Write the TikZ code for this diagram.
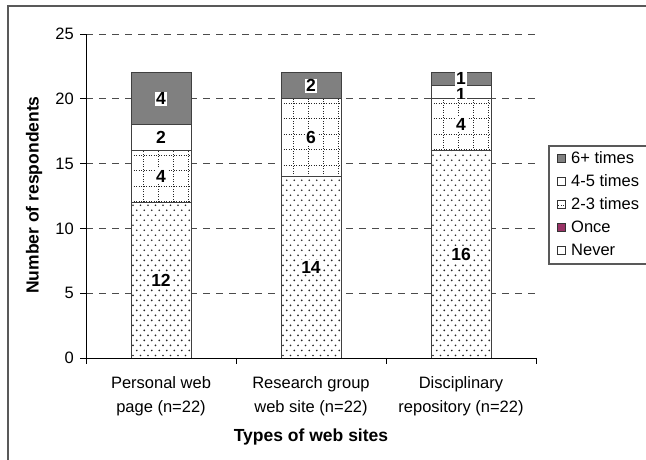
\documentclass[tikz,border=0pt]{standalone}
\usepackage{fontspec}
\setmainfont{Liberation Sans}
\definecolor{oncecol}{RGB}{153,51,102}
\begin{document}
\begin{tikzpicture}[x=1pt,y=1pt,
  txt/.style={font=\fontsize{16.5}{24}\selectfont, inner sep=0pt},
  ttl/.style={font=\fontsize{17.5}{24}\selectfont\bfseries, inner sep=0pt},
  val/.style={ttl, fill=white, inner sep=1.2pt},
  seg/.style={draw=black!75, line width=0.9pt},
  griddots/.style={draw=black!85, line width=1pt, dash pattern=on 1pt off 1.5pt},
  legsq/.style={draw=black!80, line width=0.6pt}]
  \useasboundingbox (0,0) rectangle (646,460);

  % chart frame
  \draw[black!65, line width=1.3pt] (8,-5) -- (8,454) -- (660,454);

  \begin{scope}[shift={(86,102)}, y=12.96pt]
    % gridlines
    \foreach \v in {5,10,...,25}
      \draw[black!70, line width=0.8pt, dash pattern=on 7pt off 6pt] (0,\v) -- (450,\v);

    % never: dotted fill
    \foreach \bx/\top in {75/12,225/14,375/16} {
      \begin{scope}
        \clip (\bx-30,0) rectangle (\bx+30,\top);
        \fill[white] (\bx-30,0) rectangle (\bx+30,\top);
        \foreach \j in {0,...,42} {
          \pgfmathsetmacro\off{mod(\j,2)*3.75}
          \foreach \i in {0,...,8}
            \fill[black!85] (\bx-30+2+\off+\i*7.5, 0.2+\j*0.386) circle (0.9pt);
        }
      \end{scope}
    }

    % 2-3 times: dotted grid
    \foreach \bx/\lo/\hi in {75/12/16,225/14/20,375/16/20} {
      \begin{scope}
        \clip (\bx-30,\lo) rectangle (\bx+30,\hi);
        \fill[white] (\bx-30,\lo) rectangle (\bx+30,\hi);
        \foreach \i in {0,...,3}
          \draw[griddots] (\bx-18+\i*15, \lo) -- (\bx-18+\i*15, \hi);
        \foreach \j in {0,...,5}
          \draw[griddots] (\bx-30, \hi-0.35-\j*1.2) -- (\bx+30, \hi-0.35-\j*1.2);
      \end{scope}
    }

    % 4-5 times: white, 6+ times: dark
    \foreach \bx/\lo/\hi in {75/16/18,375/20/21}
      \fill[white] (\bx-30,\lo) rectangle (\bx+30,\hi);
    \foreach \bx/\lo/\hi in {75/18/22,225/20/22,375/21/22}
      \fill[black!50] (\bx-30,\lo) rectangle (\bx+30,\hi);

    % segment outlines
    \foreach \bx/\lo/\hi in {75/0/12,75/12/16,75/16/18,75/18/22,
                             225/0/14,225/14/20,225/20/22,
                             375/0/16,375/16/20,375/20/21,375/21/22}
      \draw[seg] (\bx-30,\lo) rectangle (\bx+30,\hi);

    % axes
    \draw[black, line width=0.9pt] (0,0) -- (0,25);
    \draw[black, line width=0.9pt] (0,0) -- (450,0);
    \foreach \v in {0,5,...,25} {
      \draw[black, line width=0.9pt] (-6,\v) -- (0,\v);
      \node[txt, anchor=east] (ytick\v) at (-12,\v) {\v};
    }
    \foreach \x in {0,150,300,450}
      \draw[black, line width=0.9pt] (\x,0) -- (\x,-0.45);

    % value labels
    \foreach \bx/\v/\n/\nm in {75/6/12/pa,75/14/4/pb,75/17/2/pc,75/20/4/pd,
                               225/7/14/ra,225/17/6/rb,225/21/2/rc,
                               375/8/16/da,375/18/4/db,375/21.55/1/dd}
      \node[val] (val\nm) at (\bx,\v) {\n};
    \begin{scope}
      \clip (345,20) rectangle (405,21);
      \node[val] (valdc) at (375,20.3) {1};
    \end{scope}
  \end{scope}

  % category labels and axis titles
  \node[txt, align=center] (catpers) at (161,64) {Personal web\\page (n=22)};
  \node[txt, align=center] (catres)  at (311,64) {Research group\\web site (n=22)};
  \node[txt, align=center] (catdisc) at (461,64) {Disciplinary\\repository (n=22)};
  \node[ttl] (xtitle) at (311,23) {Types of web sites};
  \node[ttl, rotate=90] (ytitle) at (34,265) {Number of respondents};

  % legend
  \draw[black!65, line width=1.1pt, fill=white] (549,196) rectangle (700,314);
  \fill[black!50] (557,298) rectangle (565,306);
  \draw[legsq] (557,298) rectangle (565,306);
  \draw[legsq] (557,275) rectangle (565,283);
  \draw[legsq] (557,252) rectangle (565,260);
  \draw[griddots, line width=0.6pt] (558,254.5) -- (564,254.5);
  \fill[oncecol] (557,229) rectangle (565,237);
  \draw[legsq] (557,229) rectangle (565,237);
  \draw[legsq] (557,206) rectangle (565,214);
  \node[txt, anchor=west] (legsix)   at (571,302) {6+ times};
  \node[txt, anchor=west] (legfour)  at (571,279) {4-5 times};
  \node[txt, anchor=west] (legtwo)   at (571,256) {2-3 times};
  \node[txt, anchor=west] (legonce)  at (571,233) {Once};
  \node[txt, anchor=west] (legnever) at (571,210) {Never};
\end{tikzpicture}
\end{document}
